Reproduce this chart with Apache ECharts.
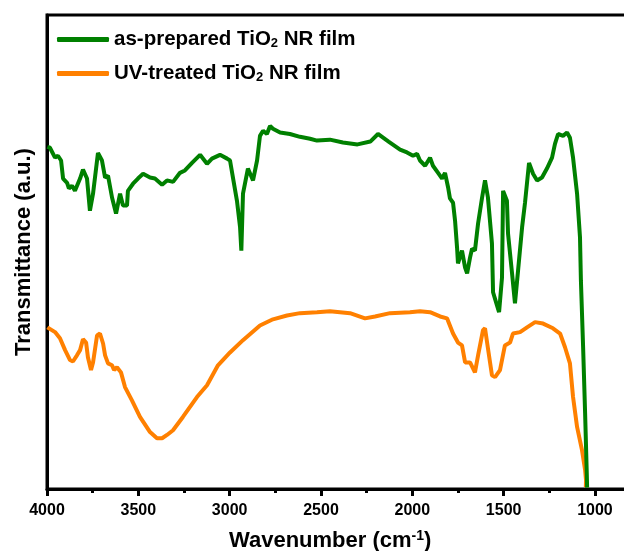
<!DOCTYPE html>
<html>
<head>
<meta charset="utf-8">
<script src="https://cdn.jsdelivr.net/npm/echarts@6/dist/echarts.min.js"></script>
<style>
html,body{margin:0;padding:0;background:#fff;}
#chart{width:624px;height:551px;}
</style>
</head>
<body>
<div id="chart"></div>
<script>
// Wavenumber (cm^-1) and transmittance (a.u.)
var wnGreen = [3998,3984,3956,3940,3923,3912,3890,3880,3863,3847,3819,3803,3781,3765,3748,3721,3699,3682,3666,3644,3622,3600,3584,3562,3557,3529,3502,3474,3436,3409,3370,3343,3310,3272,3245,3206,3162,3124,3097,3053,3014,2998,2982,2960,2943,2936,2927,2900,2872,2850,2834,2817,2796,2779,2763,2724,2670,2615,2560,2522,2451,2380,2300,2230,2188,2130,2067,2029,1996,1974,1958,1930,1903,1887,1859,1837,1821,1804,1794,1777,1766,1755,1750,1728,1711,1700,1684,1673,1657,1640,1618,1602,1586,1564,1558,1536,1525,1509,1503,1482,1476,1454,1438,1421,1399,1383,1361,1339,1317,1290,1263,1235,1219,1202,1175,1153,1137,1120,1098,1082,1077,1065,1054,1045,1043];
var tGreen  = [72.2,72.0,69.9,70.3,69.3,65.5,64.6,63.4,64.0,62.9,65.5,67.4,65.5,58.7,62.3,70.9,69.3,65.7,66.1,61.5,58.1,62.3,59.8,59.8,62.9,64.4,65.5,66.5,65.7,65.5,64.2,65.1,64.8,66.7,67.2,68.8,70.5,68.6,69.7,70.5,69.7,69.3,65.7,60.8,55.2,50.3,62.3,67.6,65.1,69.3,74.5,75.6,74.9,76.6,76.0,75.2,74.9,74.3,73.9,73.5,73.7,73.1,72.7,73.3,74.9,73.3,71.6,71.0,70.3,70.7,69.3,68.2,69.9,68.2,66.7,65.5,66.7,63.6,61.3,60.4,56.6,50.9,47.6,50.3,46.7,45.5,48.8,50.7,50.3,56.0,61.5,65.1,61.5,51.8,41.5,38.7,37.3,44.6,62.9,60.8,53.9,45.5,39.2,46.1,55.2,60.4,68.8,66.5,65.1,65.7,67.6,69.9,72.8,74.9,74.5,75.2,74.1,69.9,62.3,53.1,44.0,30.0,16.0,3.4,0.3];

var wnOrange = [3998,3956,3929,3901,3874,3858,3836,3819,3803,3786,3776,3759,3748,3726,3710,3693,3682,3666,3644,3633,3617,3595,3573,3535,3491,3436,3398,3370,3343,3310,3256,3179,3124,3064,2998,2927,2834,2763,2686,2615,2522,2451,2341,2259,2204,2122,2013,1958,1903,1848,1810,1777,1750,1728,1711,1684,1657,1640,1613,1602,1586,1564,1547,1520,1493,1465,1449,1410,1372,1328,1284,1230,1191,1164,1137,1120,1098,1071,1054,1049,1050];
var tOrange  = [34.1,33.1,31.8,29.3,27.2,26.9,28.2,29.3,31.6,30.9,27.8,25.1,26.7,32.4,32.8,30.7,28.2,26.5,26.1,25.1,25.7,24.6,21.5,18.7,15.2,12.0,10.7,10.7,11.4,12.4,15.2,19.4,21.9,26.1,28.8,31.4,34.5,35.8,36.6,37.1,37.3,37.5,37.1,36.0,36.4,37.1,37.3,37.5,37.3,36.4,36.0,32.8,30.9,30.3,26.7,26.7,24.6,28.2,33.5,33.9,29.7,24.0,23.6,25.1,30.3,30.9,32.8,33.1,34.1,35.2,34.9,33.9,32.8,29.9,26.5,19.4,13.1,8.2,4.0,1.9,0.4];

var seriesNames = ['as-prepared TiO{s|2} NR film', 'UV-treated TiO{s|2} NR film'];
var xTickValues = [4000, 3500, 3000, 2500, 2000, 1500, 1000];

function pairs(xs, ys) { return xs.map(function (x, i) { return [x, ys[i]]; }); }

var FONT = '"Liberation Sans", Arial, sans-serif';
var chart = echarts.init(document.getElementById('chart'), null, {renderer: 'canvas'});
chart.setOption({
  animation: false,
  backgroundColor: '#fff',
  title: {
    text: 'Wavenumber (cm{sup|-1})',
    left: 229, top: 529, padding: 0,
    textStyle: {
      fontFamily: FONT, fontWeight: 'bold', fontSize: 22, color: '#000',
      rich: { sup: { fontFamily: FONT, fontWeight: 'bold', fontSize: 14, color: '#000', verticalAlign: 'top', padding: [0, 0, 10, 0] } }
    }
  },
  grid: {
    left: 47, width: 639.3, top: 15, height: 474,
    outerBoundsMode: 'none', containLabel: false,
    show: true, borderColor: '#000', borderWidth: 3, backgroundColor: 'transparent'
  },
  legend: {
    orient: 'vertical', left: 57, top: 29, itemGap: 13, padding: 0,
    itemWidth: 52, itemHeight: 5, icon: 'roundRect',
    data: seriesNames.map(function (n, i) { return {name: 'S' + i}; }),
    formatter: function (name) { return seriesNames[+name.slice(1)]; },
    textStyle: {
      fontFamily: FONT, fontWeight: 'bold', fontSize: 20.5, color: '#000', lineHeight: 20,
      rich: { s: { fontFamily: FONT, fontWeight: 'bold', fontSize: 13, color: '#000', verticalAlign: 'bottom', padding: [15, 0, 0, 0] } }
    }
  },
  xAxis: {
    type: 'value', inverse: true, min: 500, max: 4000, interval: 500,
    axisLine: {show: true, onZero: false, lineStyle: {color: '#000', width: 3}},
    axisTick: {show: true, inside: false, length: 7, lineStyle: {color: '#000', width: 3}},
    minorTick: {show: true, splitNumber: 2, length: 4, lineStyle: {color: '#000', width: 3}},
    splitLine: {show: false},
    axisLabel: {
      color: '#000', fontFamily: FONT, fontWeight: 'bold', fontSize: 16, margin: 14,
      formatter: function (v) { return xTickValues.indexOf(v) >= 0 ? String(v) : ''; }
    }
  },
  yAxis: {
    type: 'value', min: 0, max: 100,
    name: 'Transmittance (a.u.)', nameLocation: 'middle', nameGap: 12,
    nameTextStyle: {fontFamily: FONT, fontWeight: 'bold', fontSize: 22, color: '#000'},
    axisLine: {show: true, lineStyle: {color: '#000', width: 3}},
    axisTick: {show: false}, axisLabel: {show: false}, splitLine: {show: false}
  },
  series: [
    {name: 'S0', type: 'line', data: pairs(wnGreen, tGreen), showSymbol: false, symbol: 'none',
     lineStyle: {color: '#008000', width: 4}, itemStyle: {color: '#008000'}, z: 3},
    {name: 'S1', type: 'line', data: pairs(wnOrange, tOrange), showSymbol: false, symbol: 'none',
     lineStyle: {color: '#FF8000', width: 4}, itemStyle: {color: '#FF8000'}, z: 2}
  ]
});
</script>
</body>
</html>
